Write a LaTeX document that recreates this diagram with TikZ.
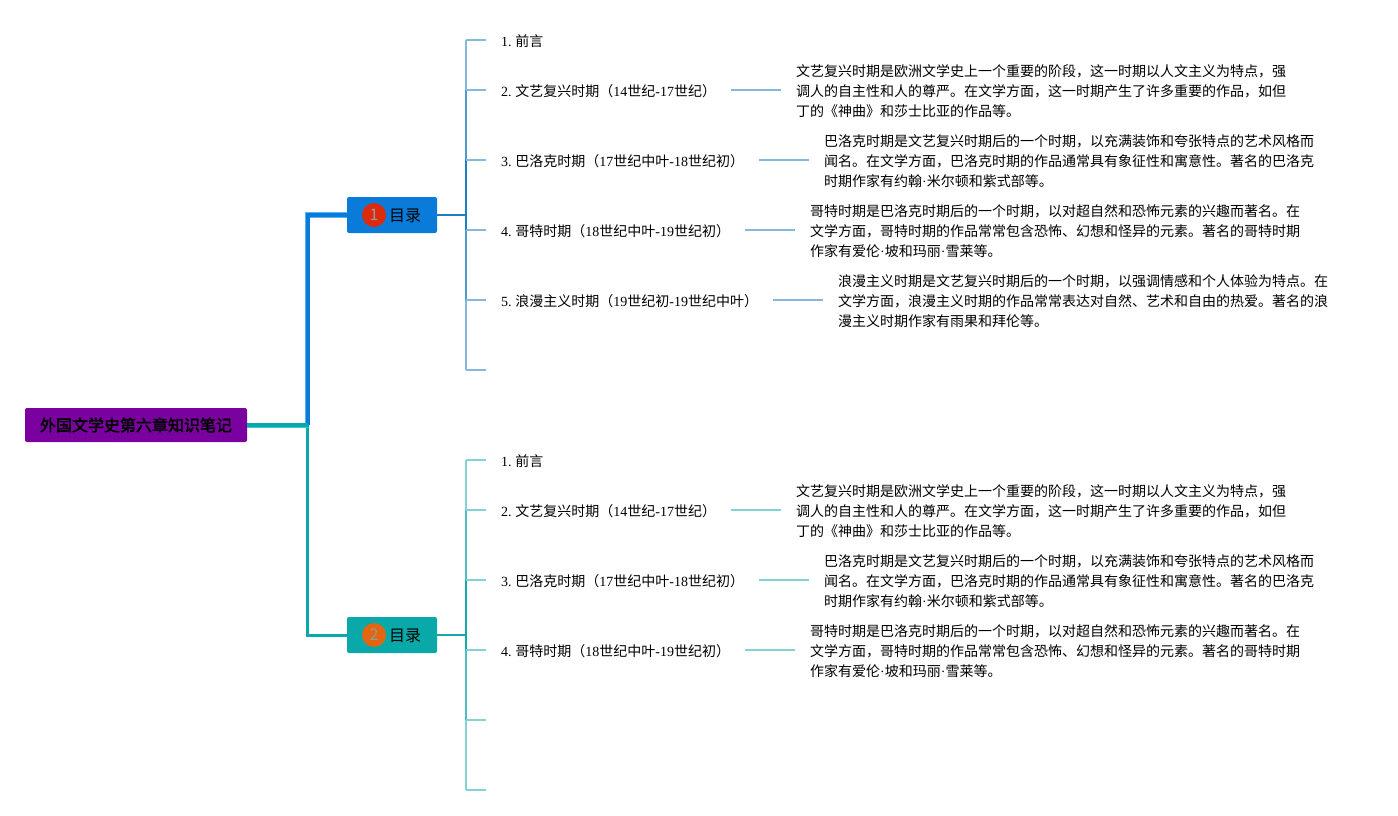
\documentclass[tikz,border=0pt]{standalone}
\usepackage{fontspec}
\setmainfont{Noto Sans CJK SC}
\newfontfamily\latnfont{Liberation Serif}
\newfontfamily\rootfont[FakeBold=2.5]{Noto Sans CJK SC}
\newcommand{\ltn}[1]{{\latnfont #1}}
\newcommand{\num}[1]{{\latnfont #1. }\hspace{-1pt}}
\newcommand{\txtrenai}{文艺复兴时期是欧洲文学史上一个重要的阶段，这一时期以人文主义为特点，强\\调人的自主性和人的尊严。在文学方面，这一时期产生了许多重要的作品，如但\\丁的《神曲》和莎士比亚的作品等。}
\newcommand{\txtbaroq}{巴洛克时期是文艺复兴时期后的一个时期，以充满装饰和夸张特点的艺术风格而\\闻名。在文学方面，巴洛克时期的作品通常具有象征性和寓意性。著名的巴洛克\\时期作家有约翰\ltn{·}米尔顿和紫式部等。}
\newcommand{\txtgothic}{哥特时期是巴洛克时期后的一个时期，以对超自然和恐怖元素的兴趣而著名。在\\文学方面，哥特时期的作品常常包含恐怖、幻想和怪异的元素。著名的哥特时期\\作家有爱伦\ltn{·}坡和玛丽\ltn{·}雪莱等。}
\newcommand{\txtroman}{浪漫主义时期是文艺复兴时期后的一个时期，以强调情感和个人体验为特点。在\\文学方面，浪漫主义时期的作品常常表达对自然、艺术和自由的热爱。著名的浪\\漫主义时期作家有雨果和拜伦等。}
\definecolor{rootfill}{HTML}{7B00A0}
\definecolor{bluefill}{HTML}{0A7BD8}
\definecolor{tealfill}{HTML}{0AA9A9}
\definecolor{blueA}{HTML}{1B7FC4}
\definecolor{blueB}{HTML}{4C9BD0}
\definecolor{blueC}{HTML}{85B9DB}
\definecolor{tealA}{HTML}{12A8AC}
\definecolor{tealB}{HTML}{4CBDC0}
\definecolor{tealC}{HTML}{85D2D4}
\definecolor{badgered}{HTML}{DB2A0C}
\definecolor{badgeorange}{HTML}{E2660F}
\definecolor{edgeblue}{HTML}{55B4EE}
\definecolor{edgeteal}{HTML}{3CC4E0}
\tikzset{
  rootbox/.style={fill=rootfill, rounded corners=2pt, minimum width=222pt, minimum height=34pt, inner sep=0pt, font=\fontsize{16}{20}\rootfont},
  branchbox/.style={rounded corners=2pt, minimum width=90pt, minimum height=36pt, inner sep=0pt},
  badge/.style={circle, minimum size=24pt, inner sep=0pt, text=black!40, font=\fontsize{16}{20}\selectfont},
  branchlabel/.style={inner sep=0pt, font=\fontsize{16}{20}\selectfont},
  item/.style={anchor=west, inner xsep=15pt, inner ysep=0pt, text height=12pt, text depth=0pt, font=\fontsize{14}{20}\selectfont},
  desc/.style={anchor=west, inner xsep=15pt, inner ysep=0pt, align=left, font=\fontsize{14}{20}\selectfont},
}
\begin{document}
\begin{tikzpicture}[x=1pt, y=-1pt]
\useasboundingbox (0,0) rectangle (1398,815);
% root and the two branches
\node[rootbox] (root) at (136,425){外国文学史第六章知识笔记};
\coordinate (elbow) at (307.5,425);
\node[branchbox, fill=bluefill] (branch1) at (392,215){};
\node[branchbox, fill=tealfill] (branch2) at (392,635){};
\node[badge, fill=badgered] (badge1) at (374,215){1};
\node[badge, fill=badgeorange] (badge2) at (374,635){2};
\node[branchlabel] (label1) at (405,216){目录};
\node[branchlabel] (label2) at (405,636){目录};
\draw[line width=3pt, tealfill] (elbow) |- (branch2.west);
\draw[line width=.7pt, draw=edgeblue, double=bluefill, double distance=4pt] (elbow) |- (branch1.west);
\draw[line width=.7pt, draw=edgeteal, double=tealfill, double distance=3.6pt] (root.east) -- (elbow);
% upper branch
\coordinate (j10) at (466,40);
\coordinate (j11) at (466,90);
\coordinate (j12) at (466,160);
\coordinate (j13) at (466,215);
\coordinate (j14) at (466,230);
\coordinate (j15) at (466,300);
\coordinate (j16) at (466,370);
\coordinate (end16) at (486,370);
\node[item] (item11) at (486,40){\num{1}前言};
\node[item] (item12) at (486,90){\num{2}文艺复兴时期（\ltn{14}世纪\ltn{-17}世纪）};
\node[item] (item13) at (486,160){\num{3}巴洛克时期（\ltn{17}世纪中叶\ltn{-18}世纪初）};
\node[item] (item14) at (486,230){\num{4}哥特时期（\ltn{18}世纪中叶\ltn{-19}世纪初）};
\node[item] (item15) at (486,300){\num{5}浪漫主义时期（\ltn{19}世纪初\ltn{-19}世纪中叶）};
\node[desc] (desc12) at (781,91){\txtrenai};
\node[desc] (desc13) at (809,161){\txtbaroq};
\node[desc] (desc14) at (795,231){\txtgothic};
\node[desc] (desc15) at (823,301){\txtroman};
\draw[line width=2pt, blueA] (branch1.east) -- (j13);
\draw[line width=2pt, blueC] (j10) -- (j11);
\draw[line width=2pt, blueB] (j11) -- (j12);
\draw[line width=2pt, blueA] (j12) -- (j13) -- (j14);
\draw[line width=2pt, blueB] (j14) -- (j15);
\draw[line width=2pt, blueC] (j15) -- (j16);
\draw[line width=1.5pt, blueC] (j10) -- (item11.west);
\draw[line width=1.5pt, blueC] (j11) -- (item12.west);
\draw[line width=1.5pt, blueC] (j12) -- (item13.west);
\draw[line width=1.5pt, blueC] (j14) -- (item14.west);
\draw[line width=1.5pt, blueC] (j15) -- (item15.west);
\draw[line width=1.5pt, blueC] (j16) -- (end16);
\draw[line width=1.5pt, blueC] (item12.east) -- (item12.east -| desc12.west);
\draw[line width=1.5pt, blueC] (item13.east) -- (item13.east -| desc13.west);
\draw[line width=1.5pt, blueC] (item14.east) -- (item14.east -| desc14.west);
\draw[line width=1.5pt, blueC] (item15.east) -- (item15.east -| desc15.west);
% lower branch
\coordinate (j20) at (466,460);
\coordinate (j21) at (466,510);
\coordinate (j22) at (466,580);
\coordinate (j23) at (466,635);
\coordinate (j24) at (466,650);
\coordinate (j25) at (466,720);
\coordinate (j26) at (466,790);
\coordinate (end25) at (486,720);
\coordinate (end26) at (486,790);
\node[item] (item21) at (486,460){\num{1}前言};
\node[item] (item22) at (486,510){\num{2}文艺复兴时期（\ltn{14}世纪\ltn{-17}世纪）};
\node[item] (item23) at (486,580){\num{3}巴洛克时期（\ltn{17}世纪中叶\ltn{-18}世纪初）};
\node[item] (item24) at (486,650){\num{4}哥特时期（\ltn{18}世纪中叶\ltn{-19}世纪初）};
\node[desc] (desc22) at (781,511){\txtrenai};
\node[desc] (desc23) at (809,581){\txtbaroq};
\node[desc] (desc24) at (795,651){\txtgothic};
\draw[line width=2pt, tealA] (branch2.east) -- (j23);
\draw[line width=2pt, tealC] (j20) -- (j21);
\draw[line width=2pt, tealB] (j21) -- (j22);
\draw[line width=2pt, tealA] (j22) -- (j23) -- (j24);
\draw[line width=2pt, tealB] (j24) -- (j25);
\draw[line width=2pt, tealC] (j25) -- (j26);
\draw[line width=1.5pt, tealC] (j20) -- (item21.west);
\draw[line width=1.5pt, tealC] (j21) -- (item22.west);
\draw[line width=1.5pt, tealC] (j22) -- (item23.west);
\draw[line width=1.5pt, tealC] (j24) -- (item24.west);
\draw[line width=1.5pt, tealC] (j25) -- (end25);
\draw[line width=1.5pt, tealC] (j26) -- (end26);
\draw[line width=1.5pt, tealC] (item22.east) -- (item22.east -| desc22.west);
\draw[line width=1.5pt, tealC] (item23.east) -- (item23.east -| desc23.west);
\draw[line width=1.5pt, tealC] (item24.east) -- (item24.east -| desc24.west);
\end{tikzpicture}
\end{document}
